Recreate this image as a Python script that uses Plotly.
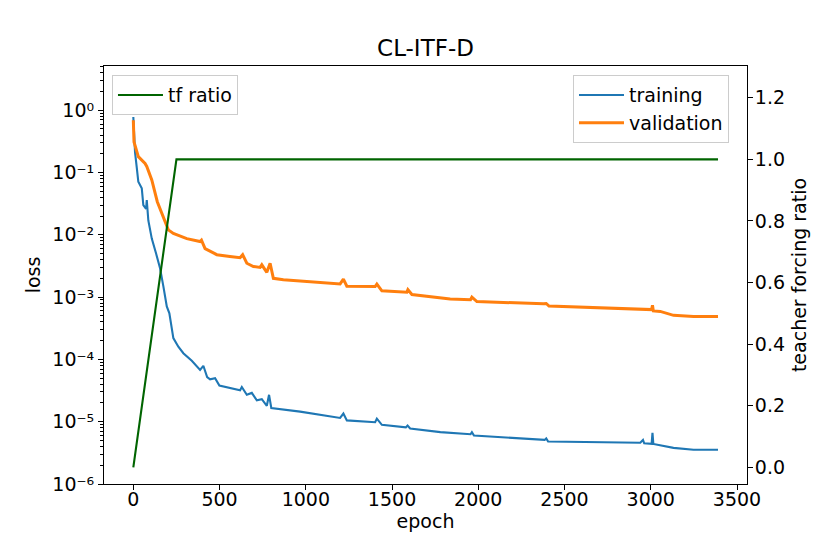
import plotly.graph_objects as go

# ---------------- data ----------------
train_epochs = [0, 5, 10, 20, 29, 49, 58, 74, 78, 87, 107, 132, 155, 174, 188, 194,
                209, 223, 232, 261, 290, 339, 387, 406, 428, 445, 474, 499, 619, 629,
                658, 687, 716, 745, 774, 787, 800, 967, 1199, 1218, 1238, 1402, 1412,
                1441, 1580, 1590, 1605, 1780, 1955, 1963, 1975, 2385, 2394, 2405,
                2939, 2955, 2962, 3005, 3010, 3015, 3055, 3132, 3248, 3390]
train_loss = [0.78, 0.27, 0.21, 0.12, 0.071, 0.056, 0.030, 0.026, 0.036, 0.017,
              0.0087, 0.0050, 0.0029, 0.0015, 8.5e-4, 7.1e-4,
              5.5e-4, 3.0e-4, 2.2e-4, 1.6e-4, 1.26e-4, 9.5e-5, 6.8e-5, 7.9e-5, 5.2e-5,
              4.8e-5, 5.0e-5, 3.8e-5, 3.2e-5, 3.6e-5,
              2.7e-5, 2.9e-5, 2.2e-5, 2.3e-5, 1.8e-5, 2.7e-5, 1.66e-5, 1.45e-5,
              1.15e-5, 1.35e-5, 1.05e-5, 9.8e-6, 1.12e-5,
              8.9e-6, 8.1e-6, 8.7e-6, 7.8e-6, 6.8e-6, 6.3e-6, 6.8e-6, 6.0e-6,
              5.1e-6, 5.4e-6, 4.8e-6,
              4.6e-6, 5.1e-6, 4.5e-6, 4.4e-6, 6.6e-6, 4.4e-6, 4.2e-6, 3.8e-6,
              3.55e-6, 3.55e-6]

val_epochs = [0, 4, 29, 68, 78, 107, 139, 174, 203, 232, 310, 387, 395, 416, 484,
              560, 619, 634, 658, 696, 735, 745, 774, 793, 812, 870, 1199, 1218,
              1238, 1402, 1412, 1441, 1586, 1592, 1615, 1837, 1955, 1963, 1992,
              2378, 2394, 2410, 2939, 3005, 3010, 3015, 3055, 3132, 3248, 3390]
val_loss = [0.69, 0.31, 0.18, 0.14, 0.125, 0.076, 0.034, 0.0195, 0.012, 0.0105,
            0.0087, 0.0078, 0.0082, 0.0060, 0.0048,
            0.0045, 0.0043, 0.0048, 0.0035, 0.0031, 0.0030, 0.0033, 0.0025, 0.0035,
            0.0020, 0.0019, 0.00163, 0.00195,
            0.0015, 0.00148, 0.00162, 0.00126, 0.0012, 0.00132, 0.0011, 9.3e-4,
            9.1e-4, 1.0e-3, 8.5e-4,
            7.8e-4, 7.9e-4, 7.2e-4, 6.5e-4, 6.3e-4, 7.4e-4, 6.0e-4, 5.9e-4, 5.1e-4,
            4.9e-4, 4.9e-4]

tf_epochs = [0, 250, 3390]
tf_ratio = [0.0, 1.0, 1.0]

x_tick_vals = [0, 500, 1000, 1500, 2000, 2500, 3000, 3500]
loss_tick_vals = [1e-6, 1e-5, 1e-4, 1e-3, 1e-2, 1e-1, 1]
loss_tick_text = ["10⁻⁶", "10⁻⁵", "10⁻⁴", "10⁻³", "10⁻²", "10⁻¹", "10⁰"]
tf_tick_vals = [0.0, 0.2, 0.4, 0.6, 0.8, 1.0, 1.2]
tf_tick_text = ["0.0", "0.2", "0.4", "0.6", "0.8", "1.0", "1.2"]

# ---------------- figure ----------------
FONT = "DejaVu Sans"
FS = 19

fig = go.Figure()
fig.add_trace(go.Scatter(x=train_epochs, y=train_loss, mode="lines", name="training",
                         line=dict(color="#1f77b4", width=2.1), legend="legend"))
fig.add_trace(go.Scatter(x=val_epochs, y=val_loss, mode="lines", name="validation",
                         line=dict(color="#ff7f0e", width=3), legend="legend"))
fig.add_trace(go.Scatter(x=tf_epochs, y=tf_ratio, mode="lines", name="tf ratio",
                         line=dict(color="#006400", width=2.1), yaxis="y2",
                         legend="legend2"))

minor_vals = [m * 10.0 ** e for e in range(-6, 1) for m in range(2, 10)]

axis_common = dict(showgrid=False, zeroline=False, showline=True, linecolor="black",
                   linewidth=1.1, ticks="outside", ticklen=5, tickwidth=1.1,
                   tickcolor="black", tickfont=dict(family=FONT, size=FS, color="black"))

fig.update_layout(
    width=830, height=554,
    margin=dict(l=104, r=83, t=66, b=70),
    paper_bgcolor="white", plot_bgcolor="white",
    font=dict(family=FONT, size=FS, color="black"),
    title=dict(text="CL-ITF-D", x=0.5, xref="paper", xanchor="center",
               y=1 - 48 / 554, yref="container", yanchor="middle",
               font=dict(family=FONT, size=23, color="black")),
    xaxis=dict(range=[-170, 3558], tickmode="array", tickvals=x_tick_vals,
               mirror=True, ticklabelstandoff=-7,
               title=dict(text="epoch", standoff=0,
                          font=dict(family=FONT, size=FS)),
               **axis_common),
    yaxis=dict(type="log", range=[-6, 0.71], tickmode="array",
               tickvals=loss_tick_vals, ticktext=loss_tick_text,
               minor=dict(tickmode="array", tickvals=minor_vals, ticks="outside",
                          ticklen=3, tickwidth=0.9, tickcolor="black"),
               title=dict(text="loss", standoff=6, font=dict(family=FONT, size=FS)),
               **axis_common),
    yaxis2=dict(overlaying="y", side="right", range=[-0.054, 1.303],
                tickmode="array", tickvals=tf_tick_vals, ticktext=tf_tick_text,
                ticklabelstandoff=-2,
                title=dict(text="teacher forcing ratio", standoff=8,
                           font=dict(family=FONT, size=FS)),
                **axis_common),
    legend=dict(x=0.972, y=0.978, xanchor="right", yanchor="top",
                bgcolor="rgba(255,255,255,0.8)", bordercolor="#cccccc",
                borderwidth=1, font=dict(family=FONT, size=FS, color="black"),
                itemwidth=45, tracegroupgap=0),
    legend2=dict(x=0.0124, y=0.978, xanchor="left", yanchor="top",
                 bgcolor="rgba(255,255,255,0.8)", bordercolor="#cccccc",
                 borderwidth=1, font=dict(family=FONT, size=FS, color="black"),
                 itemwidth=45),
    showlegend=True,
)

fig.write_html("out.html", config={"displayModeBar": False},
               post_script="document.body.style.margin='0';document.body.style.overflow='hidden';")
